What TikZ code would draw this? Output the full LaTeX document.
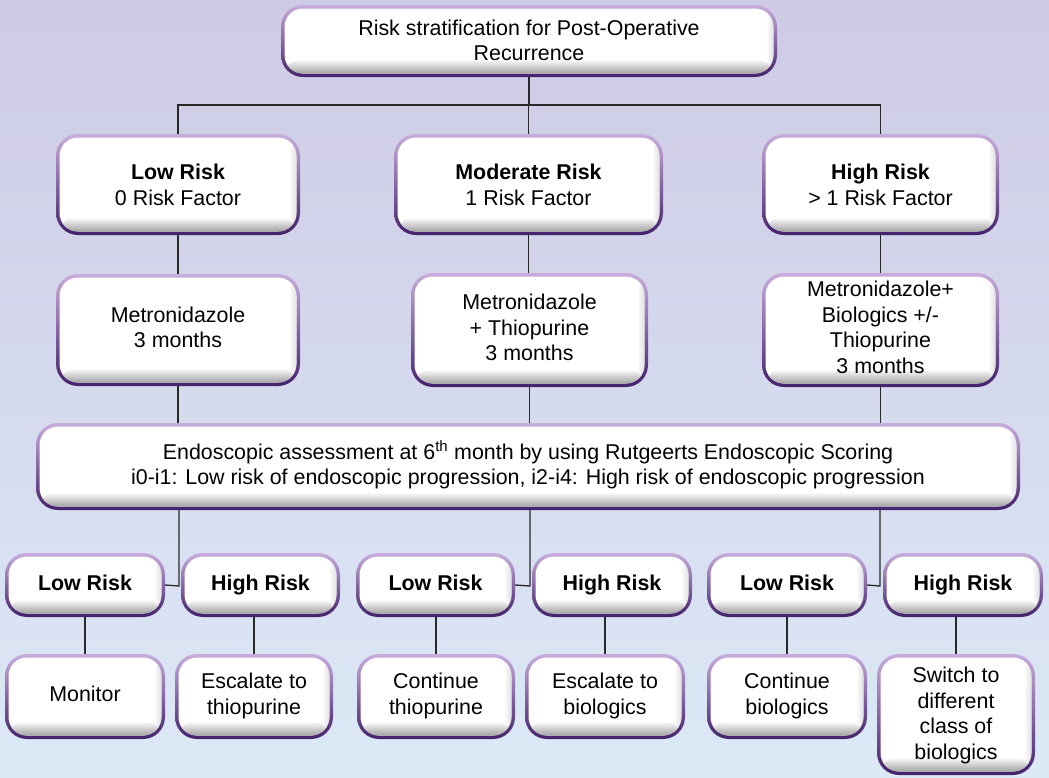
\documentclass[tikz,border=0pt]{standalone}
\usepackage{fontspec}
\setmainfont{Liberation Sans}
\definecolor{bgtop}{RGB}{206,202,229}
\definecolor{bgbot}{RGB}{220,233,246}
\definecolor{lp}{RGB}{200,172,220}
\definecolor{dp}{RGB}{68,34,108}
\definecolor{ln}{RGB}{40,40,40}
\newcommand\bstrut[1]{\rule[-#1]{0pt}{#1}}
\tikzset{
  pbox/.style={rounded corners=22pt, top color=lp, bottom color=dp, align=center,
    inner sep=0pt, font=\fontsize{21.4}{25.5}\selectfont, text=black,
    path picture={
      \begin{scope}
        \clip[rounded corners=18.5pt] ([shift={(3.5pt,3.5pt)}]path picture bounding box.south west)
          rectangle ([shift={(-3.5pt,-3.5pt)}]path picture bounding box.north east);
        \fill[white] (path picture bounding box.south west) rectangle (path picture bounding box.north east);
        \shade[top color=white, bottom color=black!45] (path picture bounding box.south west)
          rectangle ([yshift=18pt]path picture bounding box.south east);
        \shade[left color=white, right color=black!35, opacity=0.5]
          ([xshift=-11pt]path picture bounding box.south east) rectangle (path picture bounding box.north east);
      \end{scope}}},
  conn/.style={draw=ln, line width=1.3pt},
}
\begin{document}
\begin{tikzpicture}[x=1pt, y=-1pt]
\shade[top color=bgtop, bottom color=bgbot] (0,0) rectangle (1049,777);
\useasboundingbox (0,0) rectangle (1049,777);

% boxes
\node[pbox, minimum width=496pt, minimum height=72pt] (top) at (529,41)
  {\strut Risk stratification for Post-Operative\\Recurrence\bstrut{3.6pt}};

\node[pbox, minimum width=244pt, minimum height=101pt] (r1) at (178,184.5)
  {\strut\textbf{Low Risk}\\0 Risk Factor\bstrut{1.6pt}};
\node[pbox, minimum width=269pt, minimum height=101pt] (r2) at (528.5,184.5)
  {\strut\textbf{Moderate Risk}\\1 Risk Factor\bstrut{1.6pt}};
\node[pbox, minimum width=237pt, minimum height=101pt] (r3) at (880.5,184.5)
  {\strut\textbf{High Risk}\\> 1 Risk Factor\bstrut{1.6pt}};

\node[pbox, minimum width=244pt, minimum height=112pt] (t1) at (178,330)
  {\strut Metronidazole\\3 months\strut};
\node[pbox, minimum width=237pt, minimum height=114pt] (t2) at (529.5,330)
  {\strut Metronidazole\\+ Thiopurine\\3 months\strut};
\node[pbox, minimum width=237pt, minimum height=114pt] (t3) at (880.5,330)
  {\strut Metronidazole+\\Biologics +/-\\Thiopurine\\3 months\strut};

\node[pbox, minimum width=984pt, minimum height=87pt] (endo) at (528,466.5)
  {\strut Endoscopic assessment at 6\textsuperscript{th} month by using Rutgeerts Endoscopic Scoring\\
   i0-i1: Low risk of endoscopic progression, i2-i4: High risk of endoscopic progression\strut};

\node[pbox, minimum width=160pt, minimum height=64pt] (a4) at (85,585) {\strut\textbf{Low Risk}};
\node[pbox, minimum width=159pt, minimum height=64pt] (b4) at (260.5,585) {\strut\textbf{High Risk}};
\node[pbox, minimum width=159pt, minimum height=64pt] (c4) at (435.5,585) {\strut\textbf{Low Risk}};
\node[pbox, minimum width=160pt, minimum height=64pt] (d4) at (612,585) {\strut\textbf{High Risk}};
\node[pbox, minimum width=160pt, minimum height=64pt] (e4) at (787,585) {\strut\textbf{Low Risk}};
\node[pbox, minimum width=160pt, minimum height=64pt] (f4) at (963,585) {\strut\textbf{High Risk}};

\node[pbox, minimum width=160pt, minimum height=85pt] (a5) at (85,696.5) {\strut Monitor};
\node[pbox, minimum width=158pt, minimum height=85pt] (b5) at (254,696.5) {\strut Escalate to\\thiopurine\strut};
\node[pbox, minimum width=158pt, minimum height=85pt] (c5) at (436,696.5) {\strut Continue\\thiopurine\strut};
\node[pbox, minimum width=160pt, minimum height=85pt] (d5) at (605,696.5) {\strut Escalate to\\biologics\strut};
\node[pbox, minimum width=160pt, minimum height=85pt] (e5) at (787,696.5) {\strut Continue\\biologics\strut};
\node[pbox, minimum width=158pt, minimum height=121pt] (f5) at (956,714.5) {\strut Switch to\\different\\class of\\biologics\bstrut{1.6pt}};

% connectors
\coordinate (h) at (528,105);
\draw[conn] (top.south) -- (top.south |- h);
\draw[conn] (r1.north) -- (r1.north |- h) -- (r3.north |- h) -- (r3.north);
\draw[conn] (r2.north) -- (r2.north |- h);

\draw[conn] (r1.south) -- (t1.north);
\draw[conn] (r2.south) -- (r2.south |- t2.north);
\draw[conn] (r3.south) -- (t3.north);

\draw[conn] (t1.south) -- (t1.south |- endo.north);
\draw[conn] (t2.south) -- (t2.south |- endo.north);
\draw[conn] (t3.south) -- (t3.south |- endo.north);

\coordinate (j1) at (179,586);
\coordinate (j2) at (530,586);
\coordinate (j3) at (880,586);
\draw[conn] (j1 |- endo.south) -- (j1) -- (a4.east);
\draw[conn] (j2 |- endo.south) -- (j2) -- (c4.east);
\draw[conn] (j3 |- endo.south) -- (j3) -- (e4.east);

\draw[conn] (a5.north) -- (a5.north |- a4.south);
\draw[conn] (b5.north) -- (b5.north |- b4.south);
\draw[conn] (c5.north) -- (c5.north |- c4.south);
\draw[conn] (d5.north) -- (d5.north |- d4.south);
\draw[conn] (e5.north) -- (e5.north |- e4.south);
\draw[conn] (f5.north) -- (f5.north |- f4.south);
\end{tikzpicture}
\end{document}
